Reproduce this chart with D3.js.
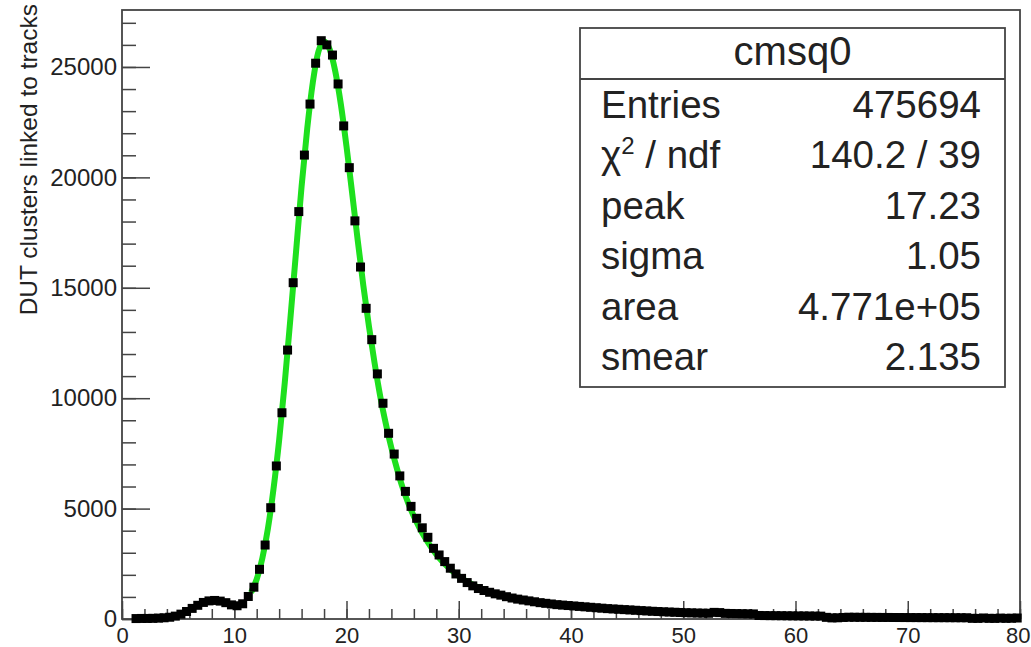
<!DOCTYPE html>
<html lang="en">
<head>
<meta charset="utf-8">
<title>cmsq0</title>
<style>
  body { margin: 0; background: #fff; }
  svg { display: block; font-family: "Liberation Sans", Arial, sans-serif; }
  .tick text { fill: #222; }
</style>
</head>
<body>
<div id="chart"></div>
<script src="https://d3js.org/d3.v7.min.js"></script>
<script>
// histogram: 160 bins of 0.5 from 0 to 80 (first two bins empty)
const xMin = 0;
const binWidth = 0.5;
const counts = [
  null, null, 20, 25, 25, 30, 40, 55, 80, 130,
  220, 340, 480, 620, 750, 820, 840, 810, 740, 640,
  600, 690, 1020, 1440, 2250, 3350, 5040, 6930, 9340, 12180,
  15230, 18450, 21010, 23320, 25170, 26190, 26000, 25540, 24230, 22330,
  20440, 18030, 15940, 14070, 12650, 11100, 9770, 8410, 7470, 6480,
  5780, 5100, 4560, 4130, 3700, 3200, 2900, 2600, 2300, 2040,
  1840, 1650, 1500, 1380, 1290, 1210, 1140, 1080, 1010, 950,
  900, 860, 820, 780, 740, 710, 680, 650, 630, 610,
  590, 570, 550, 530, 510, 490, 470, 455, 440, 425,
  410, 395, 380, 365, 350, 338, 326, 315, 305, 295,
  285, 278, 270, 265, 260, 300, 290, 255, 250, 245,
  240, 235, 230, 160, 155, 152, 150, 148, 145, 142,
  140, 138, 135, 132, 130, 75, 50, 55, 70, 80,
  78, 76, 75, 73, 72, 70, 70, 68, 67, 66,
  65, 64, 63, 62, 61, 60, 60, 59, 58, 57,
  56, 30, 28, 45, 30, 28, 40, 30, 35, 45
];

// fit curve
const fitX = [11.5, 12, 12.5, 13, 13.5, 14, 14.5, 15, 15.5, 16, 16.5, 17, 17.5, 18, 18.5,
  19, 19.5, 20, 20.5, 21, 21.5, 22, 22.5, 23, 23.5, 24, 24.5, 25, 25.5, 26, 26.5,
  27, 27.5, 28, 28.5, 29, 29.5, 30, 30.5, 31, 31.5, 32, 32.5, 33];
const fitY = [1200, 1800, 2750, 4100, 5900, 8100, 10700, 13600, 16600, 19600, 22200, 24300, 25700, 26150, 25800,
  24800, 23300, 21400, 19300, 17150, 15100, 13250, 11600, 10100, 8850, 7750, 6800, 5950, 5250, 4650, 4130,
  3680, 3280, 2930, 2630, 2370, 2140, 1940, 1770, 1620, 1490, 1380, 1280, 1200];

const statLabels = ["Entries", "χ2 / ndf", "peak", "sigma", "area", "smear"];
const statValues = ["475694", "140.2 / 39", "17.23", "1.05", "4.771e+05", "2.135"];
const statTitle = "cmsq0";
const yTitle = "DUT clusters linked to tracks";

const W = 1031, H = 647;
const x = d3.scaleLinear().domain([0, 80]).range([122, 1020]);
const y = d3.scaleLinear().domain([0, 27580]).range([619, 10]);

const svg = d3.select("#chart").append("svg")
  .attr("width", W).attr("height", H);

// y axis: major + minor ticks pointing into the frame
const yMajor = svg.append("g")
  .attr("transform", "translate(122,0)")
  .call(d3.axisLeft(y).tickValues(d3.range(0, 27001, 5000))
    .tickFormat(d3.format("d"))
    .tickSizeInner(-28).tickSizeOuter(0).tickPadding(5));
yMajor.selectAll("text").style("font-size", "24px");
svg.append("g")
  .attr("transform", "translate(122,0)")
  .call(d3.axisLeft(y).tickValues(d3.range(0, 27001, 1000))
    .tickSizeInner(-14).tickSizeOuter(0).tickFormat(""));

// x axis
const xMajor = svg.append("g")
  .attr("transform", "translate(0,619)")
  .call(d3.axisBottom(x).tickValues(d3.range(0, 81, 10))
    .tickSizeInner(-18).tickSizeOuter(0).tickPadding(8));
xMajor.selectAll("text").style("font-size", "22px");
// last label sits at the window edge: keep it inside
xMajor.selectAll(".tick").filter(d => d === 80).select("text")
  .attr("text-anchor", "end").attr("x", 10);
svg.append("g")
  .attr("transform", "translate(0,619)")
  .call(d3.axisBottom(x).tickValues(d3.range(0, 81, 2))
    .tickSizeInner(-10).tickSizeOuter(0).tickFormat(""));

svg.selectAll(".domain").remove();
svg.selectAll(".tick line").attr("stroke", "#444").attr("stroke-width", 1.5);

// frame
svg.append("rect")
  .attr("x", x(0)).attr("y", y(27580))
  .attr("width", x(80) - x(0)).attr("height", y(0) - y(27580))
  .attr("fill", "none").attr("stroke", "#444").attr("stroke-width", 1.8);

// y title
svg.append("text")
  .attr("transform", "translate(37,4) rotate(-90)")
  .attr("text-anchor", "end")
  .style("font-size", "24.5px")
  .attr("fill", "#222")
  .text(yTitle);

// fit
const fitPts = fitX.map((v, i) => [v, fitY[i]]);
svg.append("path")
  .datum(fitPts)
  .attr("fill", "none")
  .attr("stroke", "#1ee01e")
  .attr("stroke-width", 6)
  .attr("d", d3.line().x(d => x(d[0])).y(d => y(d[1])).curve(d3.curveMonotoneX));

// markers
const pts = counts.map((c, i) => ({ cx: xMin + binWidth * (i + 0.5), c }))
  .filter(d => d.c !== null);
const ms = 9;
svg.append("g").selectAll("rect")
  .data(pts).join("rect")
  .attr("x", d => x(d.cx) - ms / 2)
  .attr("y", d => y(d.c) - ms / 2)
  .attr("width", ms).attr("height", ms)
  .attr("fill", "#000");

// stats box
const bx0 = 580, bx1 = 1005, by0 = 28, by1 = 387, bsep = 79;
const stats = svg.append("g");
stats.append("rect")
  .attr("x", bx0).attr("y", by0).attr("width", bx1 - bx0).attr("height", by1 - by0)
  .attr("fill", "#fff").attr("stroke", "#444").attr("stroke-width", 1.8);
stats.append("line")
  .attr("x1", bx0).attr("x2", bx1).attr("y1", bsep).attr("y2", bsep)
  .attr("stroke", "#444").attr("stroke-width", 1.8);
stats.append("text")
  .attr("x", (bx0 + bx1) / 2).attr("y", 65)
  .attr("text-anchor", "middle")
  .style("font-size", "40px").attr("fill", "#222")
  .text(statTitle);

statLabels.forEach((lab, i) => {
  const by = 118 + i * 50.4;
  const t = stats.append("text")
    .attr("x", 601).attr("y", by)
    .style("font-size", "38.5px").attr("fill", "#222");
  if (lab.startsWith("χ2")) {
    t.append("tspan").text("χ");
    t.append("tspan").attr("dy", -14).style("font-size", "24px").text("2");
    t.append("tspan").attr("dy", 14).text(" / ndf");
  } else {
    t.text(lab);
  }
  stats.append("text")
    .attr("x", 981).attr("y", by)
    .attr("text-anchor", "end")
    .style("font-size", "38.5px").attr("fill", "#222")
    .text(statValues[i]);
});
</script>
</body>
</html>
